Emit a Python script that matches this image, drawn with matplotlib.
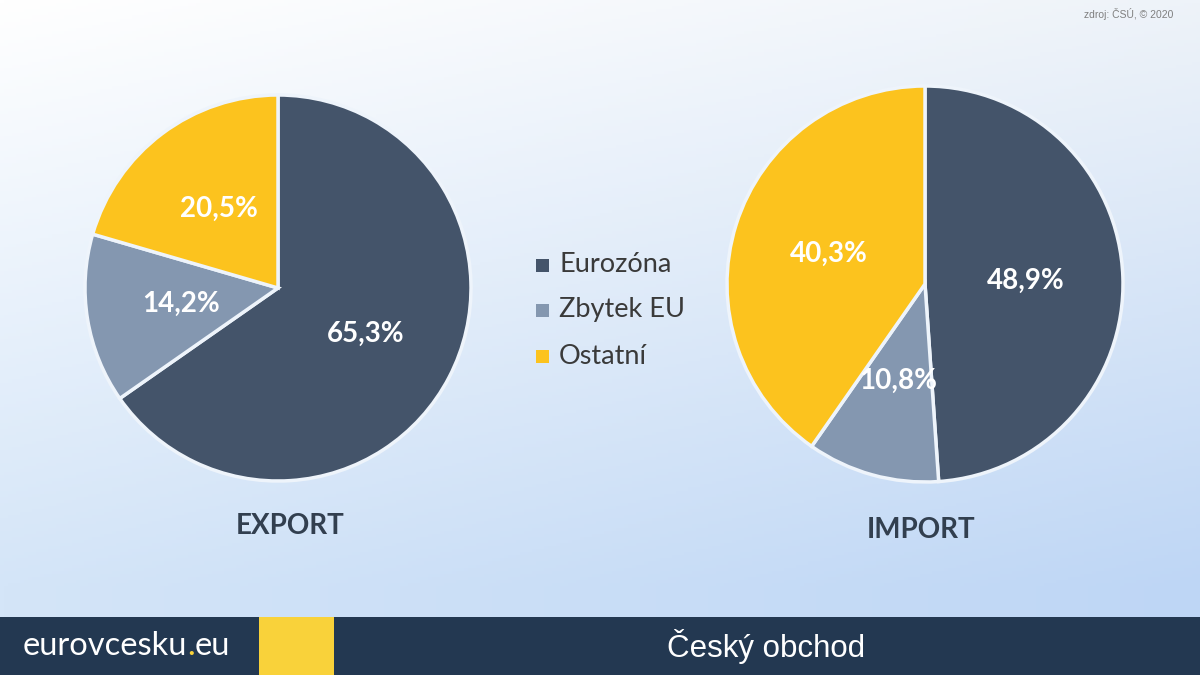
import numpy as np
import matplotlib
matplotlib.use("Agg")
import matplotlib.pyplot as plt
from matplotlib.patches import Rectangle

# ---- data ----
categories = ["Eurozóna", "Zbytek EU", "Ostatní"]
export_values = [65.3, 14.2, 20.5]
import_values = [48.9, 10.8, 40.3]
chart_titles = ["EXPORT", "IMPORT"]
source_text = "zdroj: ČSÚ, © 2020"
footer_title = "Český obchod"

colors = ["#44546A", "#8497B0", "#FCC31E"]

W, H = 1200, 675
fig = plt.figure(figsize=(12, 6.75), dpi=100)
ax = fig.add_axes([0, 0, 1, 1])
ax.set_xlim(0, W)
ax.set_ylim(0, H)
ax.set_aspect("equal")
ax.axis("off")

def py(y):
    return H - y

# background gradient (white top-left -> light blue bottom-right)
ny, nx = 200, 300
tl = np.array([255, 255, 255]) / 255
tr = np.array([238, 243, 249]) / 255
bl = np.array([212, 229, 248]) / 255
br = np.array([190, 214, 245]) / 255
u = np.linspace(0, 1, nx)[None, :, None]
v = np.linspace(0, 1, ny)[:, None, None]
v2 = np.clip(v * 1.05, 0, 1) ** 1.0
img = (1 - v2) * ((1 - u) * tl + u * tr) + v2 * ((1 - u) * bl + u * br)
ax.imshow(img, extent=(0, W, py(617), H), origin="upper", aspect="auto", zorder=0)

def fmt(p):
    return f"{p:.1f}%".replace(".", ",")

label_font = dict(color="white", fontsize=20, fontweight="bold", family="Lato")

for vals, center, radius in [(export_values, (278, py(288)), 193),
                             (import_values, (925, py(284)), 198)]:
    wedges, texts, autotexts = ax.pie(
        vals, colors=colors, startangle=90, counterclock=False,
        center=center, radius=radius, autopct=fmt, pctdistance=0.51,
        wedgeprops=dict(edgecolor="#EEF4FB", linewidth=2.5),
        textprops=label_font, frame=True)
    for w in wedges:
        w.set_zorder(2)
    for t in autotexts:
        t.set_zorder(3)

ax.set_xlim(0, W)
ax.set_ylim(0, H)
ax.axis("off")

# titles under pies
ax.text(290, py(526), chart_titles[0], ha="center", va="center", fontsize=20,
        fontweight="bold", family="Lato", color="#323F4F", zorder=3)
ax.text(921, py(530), chart_titles[1], ha="center", va="center", fontsize=20,
        fontweight="bold", family="Lato", color="#323F4F", zorder=3)

# legend
leg_y = [265, 310, 356]
for cat, col, yy in zip(categories, colors, leg_y):
    ax.add_patch(Rectangle((536, py(yy) - 6.5), 13, 13, facecolor=col,
                           edgecolor="none", zorder=3))
    ax.text(559, py(yy), cat, ha="left", va="center", fontsize=19.5,
            family="Lato", color="#3A3A3A", zorder=3)

# source
ax.text(1173, py(14), source_text, ha="right", va="center", fontsize=7.5,
        family="Liberation Sans", color="#7F7F7F", zorder=3)

# footer
ax.add_patch(Rectangle((0, 0), W, H - 617, facecolor="#233851",
                       edgecolor="none", zorder=4))
ax.add_patch(Rectangle((259, 0), 75, H - 617, facecolor="#F9D23A",
                       edgecolor="none", zorder=5))
t1 = ax.text(23, py(655), "eurovcesku", ha="left", va="baseline", fontsize=23.5,
             family="Lato", color="white", zorder=6)
t2 = ax.annotate(".", xy=(1, 0), xycoords=t1, ha="left", va="bottom",
                 fontsize=23.5, family="Lato", color="#F9D23A", zorder=6)
t3 = ax.annotate("eu", xy=(1, 0), xycoords=t2, ha="left", va="bottom",
                 fontsize=23.5, family="Lato", color="white", zorder=6)
ax.text(766, py(647), footer_title, ha="center", va="center", fontsize=22.5,
        family="Liberation Sans", color="white", zorder=6)

fig.savefig("out.png", dpi=100)
